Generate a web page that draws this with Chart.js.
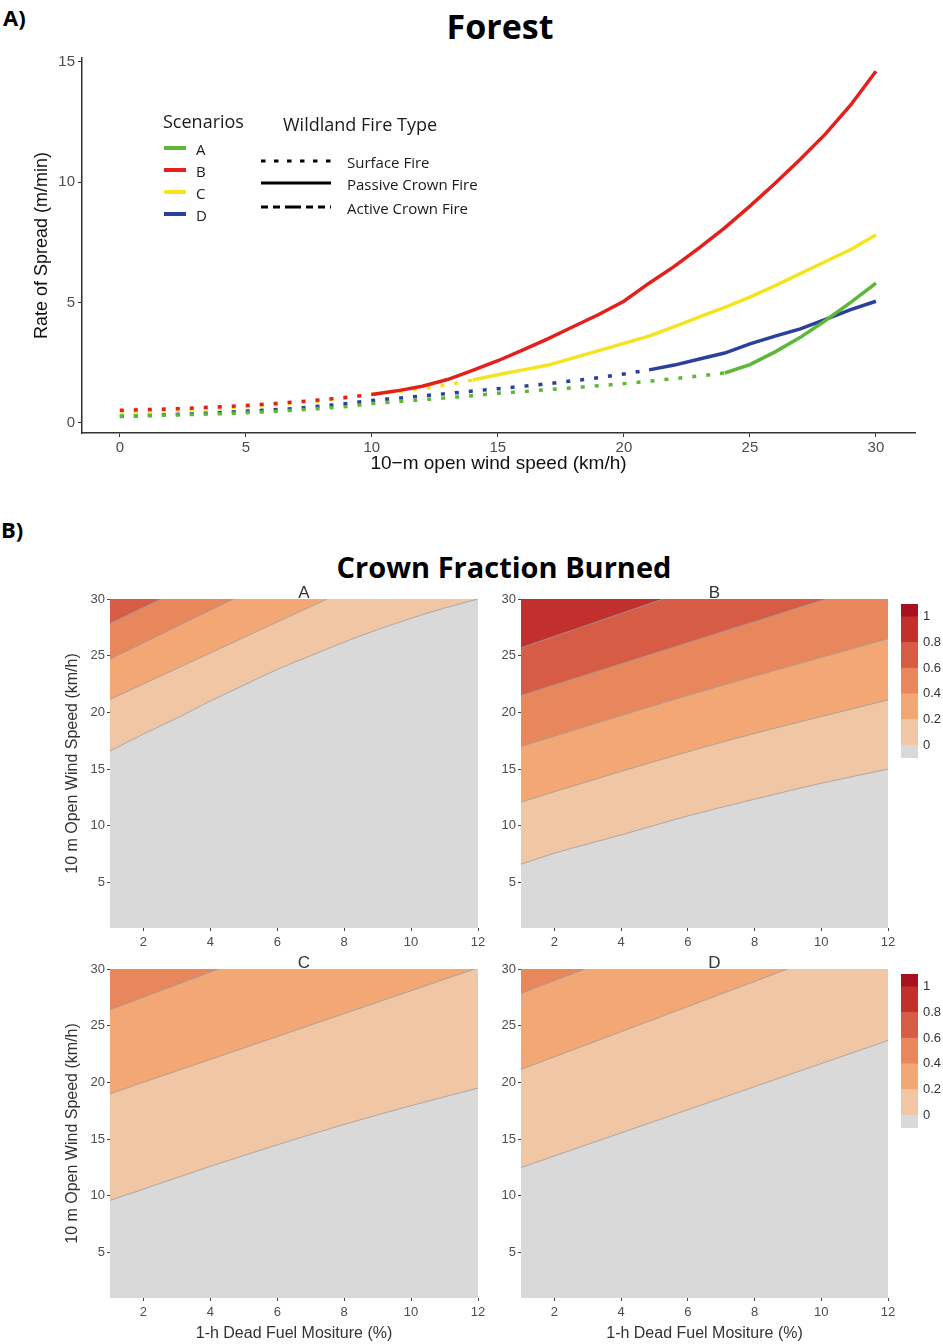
<!DOCTYPE html>
<html>
<head>
<meta charset="utf-8">
<script src="https://cdn.jsdelivr.net/npm/chart.js@4.4.1/dist/chart.umd.min.js"></script>
<style>
body { margin:0; width:943px; height:1344px; position:relative; background:#fff; overflow:hidden; font-family:"Liberation Sans", Arial, sans-serif; }
.box { position:absolute; }
.txt { position:absolute; white-space:nowrap; line-height:1; }
</style>
</head>
<body>
<script>
// ---------- A) rate of spread, forest ----------
const windSpeed = [0,1,2,3,4,5,6,7,8,9,10,11,12,13,14,15,16,17,18,19,20,21,22,23,24,25,26,27,28,29,30];
const rosA = [0.28,0.3,0.32,0.35,0.38,0.42,0.47,0.53,0.6,0.68,0.8,0.88,0.96,1.04,1.13,1.23,1.3,1.38,1.46,1.54,1.63,1.73,1.84,1.95,2.07,2.42,2.95,3.55,4.25,5.0,5.8];
const rosB = [0.52,0.55,0.58,0.62,0.67,0.72,0.79,0.87,0.96,1.06,1.18,1.33,1.52,1.8,2.18,2.58,3.03,3.5,4.0,4.5,5.05,5.8,6.5,7.28,8.1,9.0,9.95,10.95,12.0,13.2,14.6];
const rosC = [0.45,0.48,0.52,0.56,0.61,0.67,0.74,0.82,0.92,1.04,1.2,1.3,1.42,1.58,1.78,2.0,2.2,2.4,2.7,3.0,3.3,3.6,4.0,4.4,4.8,5.22,5.7,6.2,6.7,7.2,7.8];
const rosD = [0.27,0.3,0.34,0.38,0.43,0.48,0.54,0.6,0.7,0.8,0.93,1.02,1.12,1.22,1.32,1.42,1.52,1.63,1.75,1.88,2.03,2.2,2.4,2.65,2.9,3.28,3.6,3.9,4.3,4.7,5.05];
const crownStart = [24, 10, 14, 21];   // first wind speed with passive crown fire
const scenarios = ['A', 'B', 'C', 'D'];
const speedTicks = [0, 5, 10, 15, 20, 25, 30];
const rosTicks = [0, 5, 10, 15];
const fireTypes = ['Surface Fire', 'Passive Crown Fire', 'Active Crown Fire'];

// ---------- B) crown fraction burned ----------
// contour boundaries, [moisture, wind] pairs, one list per level
const cfbLevels = [0, 0.2, 0.4, 0.6, 0.8];
const cfbA = [
  [[1,16.6],[2,18.1],[3,19.5],[4,21.0],[5,22.4],[6,23.8],[7,25.0],[8,26.2],[9,27.3],[10,28.3],[11,29.2],[12,30]],
  [[1,21.15],[7.49,30]],
  [[1,24.7],[4.69,30]],
  [[1,27.85],[2.53,30]]
];
const cfbB = [
  [[1,6.62],[2,7.59],[4,9.2],[6,10.88],[8,12.35],[10,13.76],[12,15.0]],
  [[1,12.1],[4,14.8],[7.3,17.6],[12,21.1]],
  [[1,17.0],[6,21.5],[12,26.5]],
  [[1,21.5],[10.14,30]],
  [[1,25.7],[5.26,30]]
];
const cfbC = [
  [[1,9.6],[2,10.6],[4,12.6],[6,14.5],[8,16.3],[10,17.95],[12,19.5]],
  [[1,19.0],[11.9,30]],
  [[1,26.4],[4.24,30]]
];
const cfbD = [
  [[1,12.5],[12,23.7]],
  [[1,21.15],[8.99,30]],
  [[1,27.85],[2.92,30]]
];
const moistureTicks = [2, 4, 6, 8, 10, 12];
const windTicks = [5, 10, 15, 20, 25, 30];
const legendBreaks = [-0.1, 0, 0.2, 0.4, 0.6, 0.8, 1, 1.1];
const legendTicks = [0, 0.2, 0.4, 0.6, 0.8, 1];

// styles
const scenarioColors = ['#5DB83A', '#E3201C', '#F3E41E', '#2B3F9C'];
const bandColors = ['#F1C6A4', '#F2A774', '#E8875B', '#D65C45', '#C2302E', '#A5121F'];
const gray = '#D9D9D9';

Chart.defaults.animation = false;
Chart.defaults.font.family = '"Liberation Sans", Arial, sans-serif';
Chart.defaults.plugins.legend.display = false;
Chart.defaults.plugins.tooltip.enabled = false;

function makeCanvas(left, top, width, height) {
  const d = document.createElement('div');
  d.className = 'box';
  d.style.cssText = `left:${left}px;top:${top}px;width:${width}px;height:${height}px`;
  const c = document.createElement('canvas');
  d.appendChild(c);
  document.body.appendChild(d);
  return c;
}

function addText(txt, x, y, css, centered) {
  const t = document.createElement('div');
  t.className = 'txt';
  t.textContent = txt;
  t.style.cssText = `left:${x}px;top:${y}px;${css};transform:translate(${centered ? '-50%' : '0'},-50%)`;
  document.body.appendChild(t);
}

// ---------- panel A ----------
addText('A)', 3, 17, 'font:bold 22px "Open Sans";color:#000', false);
addText('Forest', 500, 26, 'font:bold 34px "Open Sans";color:#000', true);

const rosSeries = [rosA, rosB, rosC, rosD];
const rosSets = [];
rosSeries.forEach((ros, i) => {
  const pts = windSpeed.map((w, j) => ({x: w, y: ros[j]}));
  rosSets.push({
    label: scenarios[i] + ' surface',
    data: pts.filter(p => p.x <= crownStart[i]),
    borderColor: scenarioColors[i], borderWidth: 3.5, borderDash: [4, 10],
    pointRadius: 0, fill: false, order: 10 + i
  });
  rosSets.push({
    label: scenarios[i] + ' passive crown',
    data: pts.filter(p => p.x >= crownStart[i]),
    borderColor: scenarioColors[i], borderWidth: 3.5,
    pointRadius: 0, fill: false, order: i
  });
});

new Chart(makeCanvas(0, 44, 943, 436), {
  type: 'line',
  data: {datasets: rosSets},
  options: {
    responsive: true, maintainAspectRatio: false,
    layout: {padding: {top: 14, right: 28, left: 0, bottom: 0}},
    scales: {
      x: {
        type: 'linear', min: -1.5, max: 31.55,
        afterBuildTicks: s => { s.ticks = speedTicks.map(v => ({value: v})); },
        afterFit: s => { s.height = 47; },
        grid: {drawOnChartArea: false, tickLength: 4, tickColor: '#333'},
        border: {color: '#333', width: 1.5},
        ticks: {color: '#4d4d4d', font: {size: 15}, padding: 2, maxRotation: 0},
        title: {display: true, text: '10\u2212m open wind speed (km/h)', color: '#111', font: {size: 19}, padding: {bottom: 5}}
      },
      y: {
        min: -0.42, max: 15.15,
        afterBuildTicks: s => { s.ticks = rosTicks.map(v => ({value: v})); },
        afterFit: s => { s.width = 82; },
        grid: {drawOnChartArea: false, tickLength: 4, tickColor: '#333'},
        border: {color: '#333', width: 1.5},
        ticks: {color: '#4d4d4d', font: {size: 15}, padding: 3},
        title: {display: true, text: 'Rate of Spread (m/min)', color: '#111', font: {size: 18}, padding: {top: 31}}
      }
    }
  }
});

// legend for panel A
addText('Scenarios', 163, 121, 'font:18px "Open Sans";color:#1a1a1a', false);
addText('Wildland Fire Type', 283, 124, 'font:18px "Open Sans";color:#1a1a1a', false);
const scenY = [149, 171, 193, 215];
scenarios.forEach((s, i) => addText(s, 196, scenY[i], 'font:15px "Open Sans";color:#1a1a1a', false));
const typeY = [162, 184, 208];
fireTypes.forEach((s, i) => addText(s, 347, typeY[i], 'font:15px "Open Sans";color:#1a1a1a', false));

const svgNS = 'http://www.w3.org/2000/svg';
const svg = document.createElementNS(svgNS, 'svg');
svg.setAttribute('width', 943);
svg.setAttribute('height', 260);
svg.style.cssText = 'position:absolute;left:0;top:0';
function svgLine(x1, x2, y, color, w, dash) {
  const l = document.createElementNS(svgNS, 'line');
  l.setAttribute('x1', x1); l.setAttribute('x2', x2);
  l.setAttribute('y1', y); l.setAttribute('y2', y);
  l.setAttribute('stroke', color); l.setAttribute('stroke-width', w);
  if (dash) l.setAttribute('stroke-dasharray', dash);
  svg.appendChild(l);
}
scenarioColors.forEach((c, i) => svgLine(164, 186, scenY[i] - 1, c, 4));
svgLine(261, 331, typeY[0] - 1, '#000', 3, '4.5,8.5');
svgLine(261, 331, typeY[1] - 1, '#000', 3);
svgLine(261, 331, typeY[2] - 1, '#000', 3, '7,5,7,5,16,5');
document.body.appendChild(svg);

// ---------- panel B ----------
addText('B)', 1, 529, 'font:bold 22px "Open Sans";color:#000', false);
addText('Crown Fraction Burned', 504, 566, 'font:bold 29px "Open Sans";color:#000', true);

function contour(bounds, box, yTitle, xTitle) {
  const yW = yTitle ? 50 : 40;
  const xH = xTitle ? 46 : 28;
  const padT = 13, padR = 13;
  const canvas = makeCanvas(box.left - yW, box.top - padT, box.width + yW + padR, box.height + padT + xH);
  const sets = [{
    label: 'below 0', data: [{x: 1, y: 1}, {x: 12, y: 1}],
    fill: 'end', backgroundColor: gray, borderWidth: 0, pointRadius: 0, order: 20
  }];
  bounds.forEach((line, i) => sets.push({
    label: 'CFB ' + cfbLevels[i],
    data: line.map(p => ({x: p[0], y: p[1]})),
    fill: 'end', backgroundColor: bandColors[i],
    borderColor: '#9d9d9d', borderWidth: 0.8, pointRadius: 0,
    cubicInterpolationMode: 'monotone', order: 10 - i
  }));
  new Chart(canvas, {
    type: 'line',
    data: {datasets: sets},
    options: {
      responsive: true, maintainAspectRatio: false,
      layout: {padding: {top: padT, right: padR, left: 0, bottom: 0}},
      scales: {
        x: {
          type: 'linear', min: 1, max: 12,
          afterBuildTicks: s => { s.ticks = moistureTicks.map(v => ({value: v})); },
          afterFit: s => { s.height = xH; },
          grid: {drawOnChartArea: false, tickLength: 3, tickColor: '#444'},
          border: {display: false},
          ticks: {color: '#4d4d4d', font: {size: 13}, padding: 4, maxRotation: 0},
          title: {display: xTitle, text: '1-h Dead Fuel Mositure (%)', color: '#333', font: {size: 16}, padding: {top: 0, bottom: 1}}
        },
        y: {
          min: 1, max: 30,
          afterBuildTicks: s => { s.ticks = windTicks.map(v => ({value: v})); },
          afterFit: s => { s.width = yW; },
          grid: {drawOnChartArea: false, tickLength: 3, tickColor: '#444'},
          border: {display: false},
          ticks: {color: '#4d4d4d', font: {size: 13}, padding: 2},
          title: {display: yTitle, text: '10 m Open Wind Speed (km/h)', color: '#333', font: {size: 16}, padding: {top: 3}}
        }
      }
    }
  });
}

function colorbar(left, top) {
  const canvas = makeCanvas(left, top - 16, 57, 186);
  new Chart(canvas, {
    type: 'bar',
    data: {
      labels: [''],
      datasets: [gray].concat(bandColors).map((c, i) => ({
        label: legendBreaks[i] + '–' + legendBreaks[i + 1],
        data: [[legendBreaks[i], legendBreaks[i + 1]]],
        backgroundColor: c, borderWidth: 0, grouped: false,
        barPercentage: 1, categoryPercentage: 1
      }))
    },
    options: {
      responsive: true, maintainAspectRatio: false,
      layout: {padding: {top: 16, bottom: 16, left: 0, right: 0}},
      scales: {
        x: {display: false},
        y: {
          position: 'right', min: -0.1, max: 1.1,
          afterBuildTicks: s => { s.ticks = legendTicks.map(v => ({value: v})); },
          afterFit: s => { s.width = 40; },
          grid: {display: false, drawTicks: false},
          border: {display: false},
          ticks: {color: '#333', font: {size: 13}, padding: 5, callback: v => String(+v.toFixed(1))}
        }
      }
    }
  });
}

const cfbPanels = [cfbA, cfbB, cfbC, cfbD];
const panelBoxes = [
  {left: 110, top: 599, width: 368, height: 329},
  {left: 521, top: 599, width: 367, height: 329},
  {left: 110, top: 969, width: 368, height: 329},
  {left: 521, top: 969, width: 367, height: 329}
];
cfbPanels.forEach((b, i) => {
  contour(b, panelBoxes[i], i % 2 === 0, i >= 2);
  addText(scenarios[i], panelBoxes[i].left + panelBoxes[i].width / 2 + 10, panelBoxes[i].top - 6, 'font:17px "Liberation Sans";color:#333', true);
});
colorbar(901, 604);
colorbar(901, 974);
</script>
</body>
</html>
